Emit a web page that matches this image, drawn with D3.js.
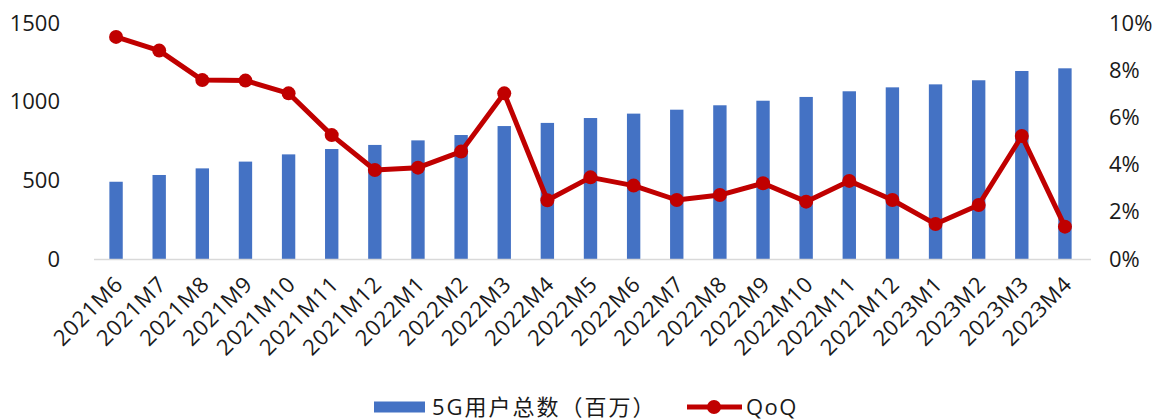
<!DOCTYPE html>
<html><head><meta charset="utf-8">
<script src="https://cdn.jsdelivr.net/npm/d3@7"></script>
<style>body{margin:0;background:#fff;} text{font-family:"Open Sans","Noto Sans CJK SC",sans-serif;fill:#1a1a1a;}</style>
</head><body><svg id="c" width="1162" height="420"></svg>
<script>
const categories = ["2021M6","2021M7","2021M8","2021M9","2021M10","2021M11","2021M12","2022M1","2022M2","2022M3","2022M4","2022M5","2022M6","2022M7","2022M8","2022M9","2022M10","2022M11","2022M12","2023M1","2023M2","2023M3","2023M4"];
const users = [491,534,576,619,665,699,725,754,788,845,865,896,924,949,977,1006,1030,1066,1091,1110,1136,1195,1212];
const qoq = [9.41,8.83,7.58,7.56,7.02,5.25,3.77,3.87,4.55,7.02,2.49,3.46,3.11,2.50,2.71,3.21,2.43,3.31,2.50,1.48,2.29,5.21,1.37];
const leftTicks = [0,500,1000,1500];
const rightTicks = [0,2,4,6,8,10];
const seriesNames = ["5G用户总数（百万）","QoQ"];

const svg = d3.select("#c");
const x = d3.scaleBand().domain(categories).range([94.5,1086.5]).paddingInner(0.69).paddingOuter(0.345);
const yL = d3.scaleLinear().domain([0,1500]).range([259,23]);
const yR = d3.scaleLinear().domain([0,10]).range([259,23]);

// bars
svg.append("g").selectAll("rect").data(users).join("rect")
  .attr("x",(d,i)=>x(categories[i])).attr("width",x.bandwidth())
  .attr("y",d=>yL(d)).attr("height",d=>yL(0)-yL(d)).attr("fill","#4472C4");

// baseline
svg.append("line").attr("x1",94).attr("x2",1091).attr("y1",yL(0)+0.5).attr("y2",yL(0)+0.5)
  .attr("stroke","#d9d9d9").attr("stroke-width",1.5);

// left axis
const gl = svg.append("g").attr("transform","translate(60,0)")
  .call(d3.axisLeft(yL).tickValues(leftTicks).tickSize(0).tickPadding(0).tickFormat(d3.format("d")));
gl.select(".domain").remove();
gl.selectAll("text").attr("font-size",22).attr("fill","#1a1a1a").style("font-family",'"Open Sans",sans-serif');

// right axis
const gr = svg.append("g").attr("transform","translate(1109,0)")
  .call(d3.axisRight(yR).tickValues(rightTicks).tickSize(0).tickPadding(0).tickFormat(d=>d+"%"));
gr.select(".domain").remove();
gr.selectAll("text").attr("font-size",22).attr("fill","#1a1a1a").style("font-family",'"Open Sans",sans-serif');

// x axis labels
const gx = svg.append("g").attr("transform","translate(0,270)")
  .call(d3.axisBottom(x).tickSize(0).tickPadding(0));
gx.select(".domain").remove();
gx.selectAll("text").attr("font-size",22).attr("fill","#1a1a1a")
  .style("font-family",'"Open Sans",sans-serif')
  .attr("letter-spacing",0.8)
  .attr("text-anchor","end").attr("dy","0.35em")
  .attr("transform","translate(3,10) rotate(-45)");

// line
const cx = (d,i)=>x(categories[i])+x.bandwidth()/2;
svg.append("path").datum(qoq)
  .attr("d",d3.line().x(cx).y(d=>yR(d)))
  .attr("fill","none").attr("stroke","#C00000").attr("stroke-width",5).attr("stroke-linejoin","round");
svg.append("g").selectAll("circle").data(qoq).join("circle")
  .attr("cx",cx).attr("cy",d=>yR(d)).attr("r",7).attr("fill","#C00000");

// legend
const lg = svg.append("g");
lg.append("rect").attr("x",374).attr("y",401.5).attr("width",51).attr("height",11).attr("fill","#4472C4");
lg.append("text").attr("x",432).attr("y",407).attr("dy","0.35em").attr("font-size",22).attr("letter-spacing",2).text(seriesNames[0]);
lg.append("line").attr("x1",687).attr("x2",742).attr("y1",407).attr("y2",407).attr("stroke","#C00000").attr("stroke-width",5);
lg.append("circle").attr("cx",714).attr("cy",407).attr("r",7).attr("fill","#C00000");
lg.append("text").attr("x",746).attr("y",407).attr("dy","0.35em").attr("font-size",22).attr("letter-spacing",1.5).text(seriesNames[1]);
</script></body></html>
